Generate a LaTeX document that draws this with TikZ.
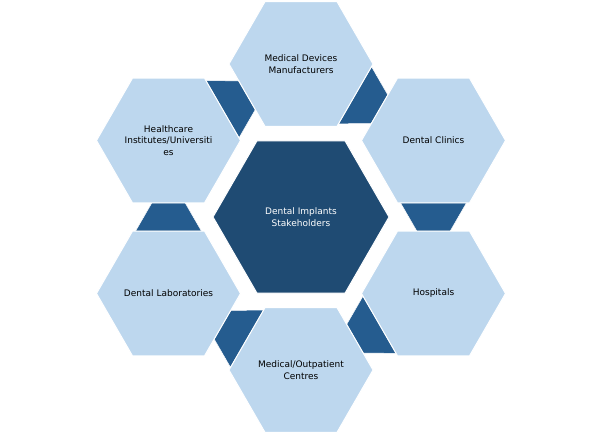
\documentclass[tikz,border=0pt]{standalone}
\usepackage{fontspec}
\setmainfont{DejaVu Sans}
\usetikzlibrary{calc}
\definecolor{hexlight}{HTML}{BDD7EE}
\definecolor{hexcenter}{HTML}{1F4B73}
\definecolor{linkblue}{HTML}{255C8F}
\tikzset{
  outerhex/.style={fill=hexlight, draw=white, line width=1pt},
  centerhex/.style={fill=hexcenter, draw=white, line width=1pt},
  linkshape/.style={fill=linkblue, draw=white, line width=0.5pt},
  hextext/.style={align=center, inner sep=0pt, font=\fontsize{9}{11.5}\selectfont, text=black},
  centertext/.style={hextext, text=white}
}
\begin{document}
\begin{tikzpicture}[x=1pt,y=1pt]
\useasboundingbox (0,0) rectangle (602,434);
\coordinate (C) at (301,217);
\coordinate (H1) at ($(C)+(90:153)$);
\coordinate (H2) at ($(C)+(30:153)$);
\coordinate (H3) at ($(C)+(-30:153)$);
\coordinate (H4) at ($(C)+(-90:153)$);
\coordinate (H5) at ($(C)+(-150:153)$);
\coordinate (H6) at ($(C)+(150:153)$);
% connectors between neighbouring outer hexagons
\foreach \p in {60,0,-60,-120,180,120}{
  \begin{scope}[shift={(C)}, rotate=\p]
    \path[linkshape] (99.5,14.15) -- (165.5,14.15) -- (149.15,-14.15) -- (115.85,-14.15) -- cycle;
  \end{scope}
}
% outer hexagons
\foreach \h in {H1,H2,H3,H4,H5,H6}{
  \path[outerhex, shift={(\h)}] (0:72) -- (60:72) -- (120:72) -- (180:72) -- (240:72) -- (300:72) -- cycle;
}
% centre hexagon
\path[centerhex, shift={(C)}] (0:88) -- (60:88) -- (120:88) -- (180:88) -- (240:88) -- (300:88) -- cycle;
% texts
\node[centertext] (tc) at (C) {Dental Implants\\Stakeholders};
\node[hextext] (t1) at (H1) {Medical Devices\\Manufacturers};
\node[hextext] (t2) at (H2) {Dental Clinics};
\node[hextext] (t3) at (H3) {Hospitals};
\node[hextext] (t4) at (H4) {Medical/Outpatient\\Centres};
\node[hextext] (t5) at (H5) {Dental Laboratories};
\node[hextext] (t6) at (H6) {Healthcare\\Institutes/Universiti\\es};
\end{tikzpicture}
\end{document}
